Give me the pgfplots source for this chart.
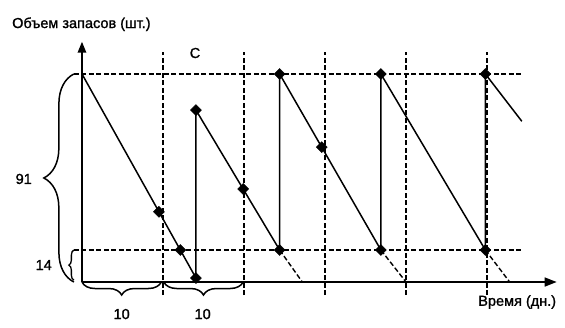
\documentclass[border=0pt]{standalone}
\usepackage{fontspec}
\setmainfont{Liberation Sans}
\newfontfamily\heavy{Liberation Sans}[FakeBold=1.3]
\usepackage{pgfplots}
\pgfplotsset{compat=1.18}
\usetikzlibrary{arrows.meta,decorations.pathreplacing}
\tikzset{
  lab/.style={font=\heavy\fontsize{14.5}{17}\selectfont, inner sep=0pt, text=black},
  dsh/.style={black, line width=1.4pt, dash pattern=on 5pt off 2.5pt},
}

\begin{document}
\begin{tikzpicture}
\begin{axis}[
  scale only axis, x=8.1pt, y=2.286pt,
  xmin=-10.12, xmax=59.63, ymin=-19.69, ymax=123.36,
  hide axis, clip=false,
]
\path (rel axis cs:0,0) rectangle (rel axis cs:1,1);

% axes
\addplot[black, line width=1.6pt, -{Triangle[length=11pt,width=8.5pt]}] coordinates {(0,0) (0,105.1)};
\addplot[black, line width=1.6pt, -{Triangle[length=12pt,width=9pt]}] coordinates {(0,0) (58.6,0)};

% dashed grid lines
\addplot[dsh] coordinates {(-1.0,91) (54.3,91)};
\addplot[dsh] coordinates {(-1.0,14) (54.3,14)};
\addplot[dsh] coordinates {(10,-5.7) (10,100.6)};
\addplot[dsh] coordinates {(20,-5.7) (20,100.6)};
\addplot[dsh] coordinates {(30,-5.7) (30,100.6)};
\addplot[dsh] coordinates {(40,-5.7) (40,100.6)};
\addplot[dsh] coordinates {(50,-5.7) (50,100.6)};

% dashed continuations to zero stock
\addplot[dsh] coordinates {(24.4,14) (27.2,0)};
\addplot[dsh] coordinates {(36.9,14) (40.0,0)};
\addplot[dsh] coordinates {(49.8,14) (52.8,0)};

% inventory sawtooth
\addplot[black, line width=1.5pt] coordinates {
  (0,91) (14.07,1.75) (14.07,75.2) (24.4,14) (24.4,91)
  (36.9,14) (36.9,91) (49.8,14) (49.8,91) (54.3,70.3)};

% markers
\addplot[only marks, mark=square*, mark size=3.9pt, mark options={rotate=45, fill=black, draw=black}] coordinates {
  (9.5,30.7) (12.14,14) (14.07,1.75) (14.07,75.2) (19.9,40.7)
  (24.4,14) (24.4,91) (29.6,59.0) (36.9,14) (36.9,91) (49.8,14) (49.8,91)};

% braces
\draw[decorate, decoration={brace, amplitude=30pt}, line width=1.5pt] (axis cs:-1.0,0) -- (axis cs:-1.0,91);
\draw[decorate, decoration={brace, amplitude=5pt}, line width=1.3pt] (axis cs:-1.0,0.8) -- (axis cs:-1.0,14);
\draw[decorate, decoration={brace, mirror, amplitude=13pt}, line width=1.5pt] (axis cs:0,0) -- (axis cs:9.8,0);
\draw[decorate, decoration={brace, mirror, amplitude=13pt}, line width=1.5pt] (axis cs:10.1,0) -- (axis cs:19.9,0);

% labels
\node[lab, anchor=base west] at (axis cs:-8.64,111.1) {Объем запасов (шт.)};
\node[lab, anchor=base west] at (axis cs:48.9,-10.4) {Время (дн.)};
\node[lab, anchor=base] at (axis cs:4.9,-16.2) {10};
\node[lab, anchor=base] at (axis cs:14.9,-16.2) {10};
\node[lab, anchor=base east] at (axis cs:-6.17,42.9) {91};
\node[lab, anchor=base east] at (axis cs:-3.7,5.25) {14};
\node[lab, anchor=base] at (axis cs:13.95,98) {C};
\end{axis}
\end{tikzpicture}
\end{document}
